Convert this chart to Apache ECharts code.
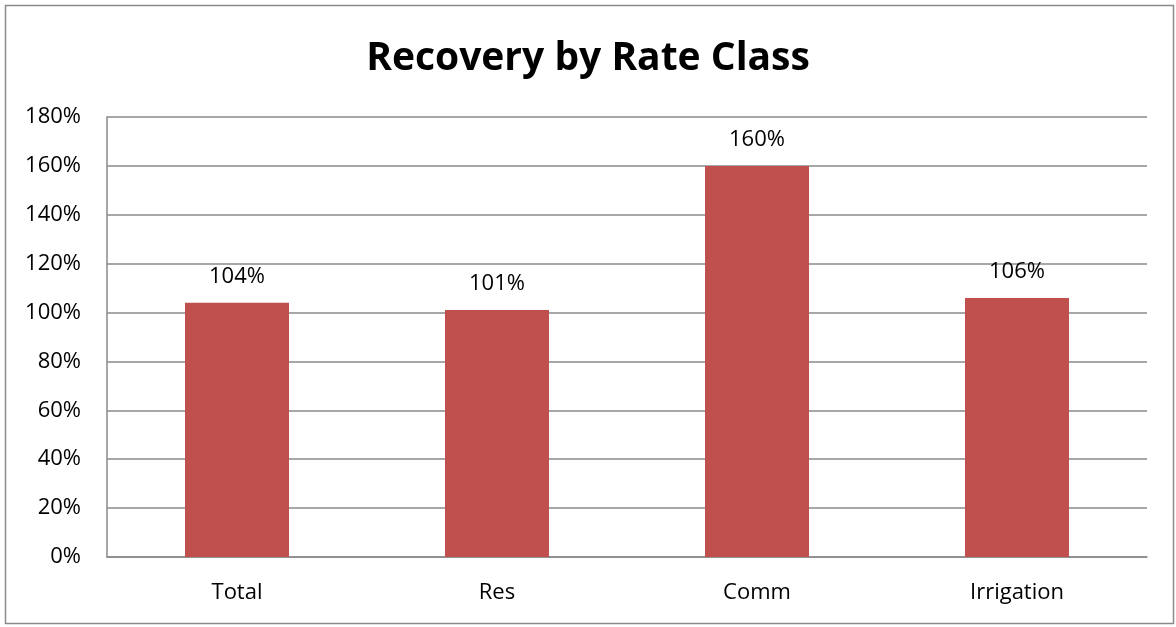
<!DOCTYPE html>
<html>
<head>
<meta charset="utf-8">
<style>
  html, body { margin: 0; padding: 0; background: #ffffff; }
  #chart { width: 1176px; height: 627px; }
</style>
<script src="https://cdn.jsdelivr.net/npm/echarts@6/dist/echarts.min.js"></script>
</head>
<body>
<div id="chart"></div>
<script>
// Cost recovery per rate class, in percent
const categories = ['Total', 'Res', 'Comm', 'Irrigation'];
const recovery = [104, 101, 160, 106];
const yTicks = { min: 0, max: 180, interval: 20 };

const FONT = '"Open Sans", "Noto Sans", sans-serif';
const chart = echarts.init(document.getElementById('chart'), null, { renderer: 'canvas' });

chart.setOption({
  backgroundColor: '#ffffff',
  animation: false,
  title: {
    text: 'Recovery by Rate Class',
    left: 'center',
    top: 34,
    textStyle: { fontFamily: FONT, fontWeight: 'bold', fontSize: 39, color: '#000000' }
  },
  graphic: [{
    type: 'rect',
    shape: { x: 5.5, y: 5.5, width: 1168, height: 618 },
    style: { fill: 'none', stroke: '#8a8a8a', lineWidth: 1.5 },
    silent: true
  }],
  grid: { left: 107, right: 29, top: 117, bottom: 70 },
  xAxis: {
    type: 'category',
    data: categories,
    axisLine: { show: true, lineStyle: { color: '#8a8a8a', width: 1.5 } },
    axisTick: { show: false },
    axisLabel: { margin: 25, fontFamily: FONT, fontSize: 22, color: '#000000' }
  },
  yAxis: {
    type: 'value',
    min: yTicks.min,
    max: yTicks.max,
    interval: yTicks.interval,
    axisLine: { show: true, lineStyle: { color: '#8a8a8a', width: 1.5 } },
    axisTick: { show: false },
    splitLine: { show: true, lineStyle: { color: '#8a8a8a', width: 1.5 } },
    axisLabel: { margin: 26, fontFamily: FONT, fontSize: 22, color: '#000000', formatter: '{value}%' }
  },
  series: [{
    type: 'bar',
    data: recovery,
    barWidth: 104,
    itemStyle: { color: '#C0504D' },
    label: {
      show: true,
      position: 'top',
      distance: 15,
      fontFamily: FONT,
      fontSize: 22,
      color: '#000000',
      formatter: '{c}%'
    }
  }]
});
</script>
</body>
</html>
